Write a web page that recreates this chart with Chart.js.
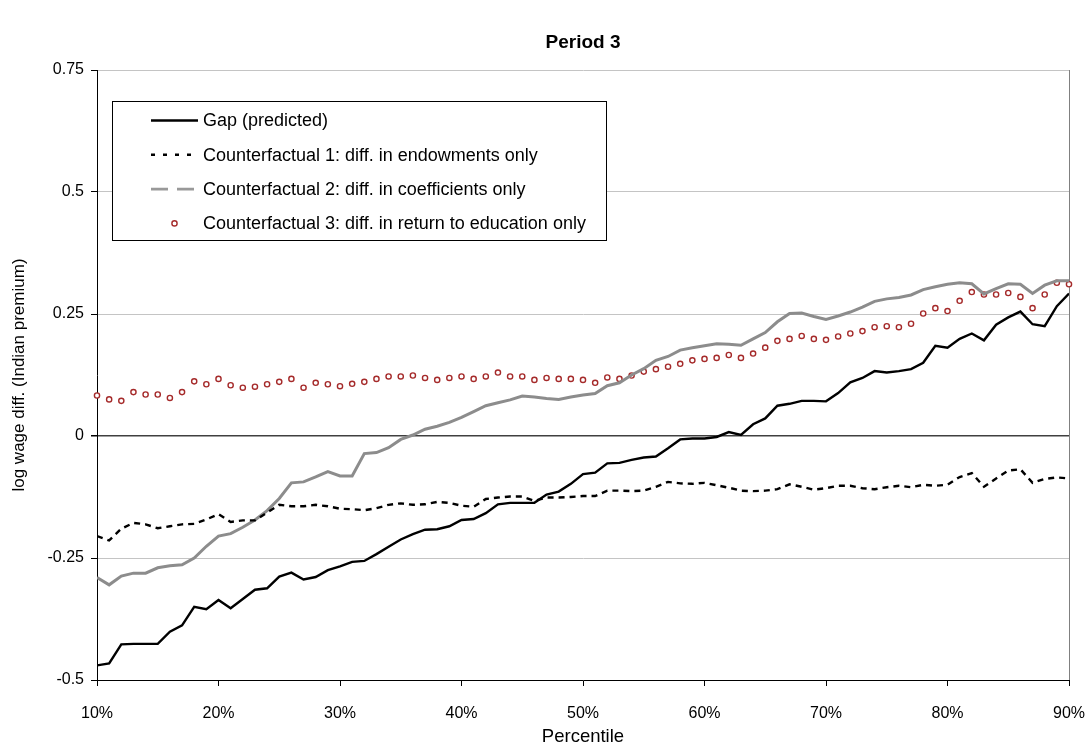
<!DOCTYPE html>
<html>
<head>
<meta charset="utf-8">
<title>Period 3</title>
<script src="https://cdn.jsdelivr.net/npm/chart.js@4.4.1/dist/chart.umd.min.js"></script>
<style>
  html, body { margin: 0; padding: 0; background: #ffffff; }
  #wrap { width: 1088px; height: 748px; }
</style>
</head>
<body>
<div id="wrap"><canvas id="chart" width="1088" height="748"></canvas></div>
<script>
// Percentile grid (1% steps)
const percentiles = [10, 11, 12, 13, 14, 15, 16, 17, 18, 19, 20, 21, 22, 23, 24, 25, 26, 27, 28, 29, 30,
  31, 32, 33, 34, 35, 36, 37, 38, 39, 40, 41, 42, 43, 44, 45, 46, 47, 48, 49, 50,
  51, 52, 53, 54, 55, 56, 57, 58, 59, 60, 61, 62, 63, 64, 65, 66, 67, 68, 69, 70,
  71, 72, 73, 74, 75, 76, 77, 78, 79, 80, 81, 82, 83, 84, 85, 86, 87, 88, 89, 90];

// Predicted log wage gap
const gapPredicted = [-0.470, -0.466, -0.427, -0.426, -0.426, -0.426, -0.401, -0.388, -0.350, -0.355, -0.336,
  -0.353, -0.334, -0.315, -0.312, -0.288, -0.280, -0.294, -0.289, -0.275, -0.267,
  -0.258, -0.256, -0.242, -0.227, -0.212, -0.201, -0.192, -0.191, -0.185, -0.172,
  -0.170, -0.158, -0.140, -0.137, -0.137, -0.137, -0.120, -0.114, -0.098, -0.078,
  -0.075, -0.056, -0.055, -0.049, -0.044, -0.042, -0.025, -0.007, -0.005, -0.005,
  -0.002, 0.008, 0.002, 0.024, 0.036, 0.062, 0.066, 0.072, 0.072, 0.071,
  0.088, 0.110, 0.119, 0.133, 0.130, 0.133, 0.137, 0.150, 0.185, 0.181,
  0.199, 0.210, 0.196, 0.228, 0.243, 0.255, 0.229, 0.225, 0.266, 0.292];

// Counterfactual 1: differences in endowments only
const cfEndowments = [-0.205, -0.214, -0.190, -0.178, -0.181, -0.189, -0.185, -0.181, -0.180, -0.171, -0.160,
  -0.176, -0.173, -0.173, -0.157, -0.141, -0.144, -0.144, -0.141, -0.144, -0.149,
  -0.150, -0.152, -0.148, -0.141, -0.138, -0.141, -0.140, -0.135, -0.137, -0.143,
  -0.145, -0.129, -0.126, -0.124, -0.124, -0.133, -0.126, -0.126, -0.125, -0.123,
  -0.123, -0.112, -0.112, -0.113, -0.112, -0.104, -0.094, -0.097, -0.098, -0.096,
  -0.101, -0.106, -0.112, -0.113, -0.112, -0.109, -0.099, -0.104, -0.110, -0.107,
  -0.102, -0.102, -0.107, -0.109, -0.105, -0.102, -0.105, -0.100, -0.102, -0.100,
  -0.084, -0.076, -0.104, -0.087, -0.071, -0.068, -0.096, -0.088, -0.085, -0.087];

// Counterfactual 2: differences in coefficients only
const cfCoefficients = [-0.290, -0.305, -0.287, -0.281, -0.281, -0.270, -0.266, -0.264, -0.250, -0.226, -0.205,
  -0.200, -0.187, -0.172, -0.153, -0.128, -0.096, -0.094, -0.084, -0.073, -0.082,
  -0.082, -0.036, -0.034, -0.024, -0.007, 0.002, 0.014, 0.020, 0.028, 0.038,
  0.050, 0.062, 0.068, 0.074, 0.082, 0.080, 0.077, 0.075, 0.080, 0.084,
  0.087, 0.103, 0.109, 0.125, 0.138, 0.155, 0.163, 0.176, 0.181, 0.185,
  0.189, 0.188, 0.186, 0.199, 0.212, 0.234, 0.251, 0.252, 0.245, 0.239,
  0.246, 0.254, 0.264, 0.276, 0.281, 0.284, 0.289, 0.300, 0.306, 0.311,
  0.314, 0.312, 0.291, 0.302, 0.312, 0.311, 0.292, 0.309, 0.318, 0.318];

// Counterfactual 3: differences in return to education only
const cfEducation = [0.083, 0.075, 0.072, 0.090, 0.085, 0.085, 0.078, 0.090, 0.112, 0.106, 0.117,
  0.104, 0.099, 0.101, 0.106, 0.111, 0.117, 0.099, 0.109, 0.106, 0.102,
  0.107, 0.111, 0.117, 0.122, 0.122, 0.124, 0.119, 0.115, 0.119, 0.122,
  0.117, 0.122, 0.130, 0.122, 0.122, 0.115, 0.119, 0.117, 0.117, 0.115,
  0.109, 0.120, 0.117, 0.124, 0.132, 0.137, 0.142, 0.148, 0.155, 0.158,
  0.160, 0.166, 0.160, 0.169, 0.181, 0.195, 0.199, 0.205, 0.199, 0.197,
  0.204, 0.210, 0.215, 0.223, 0.225, 0.223, 0.230, 0.251, 0.262, 0.256,
  0.277, 0.295, 0.290, 0.290, 0.293, 0.285, 0.262, 0.290, 0.314, 0.311];

const seriesLabels = [
  'Gap (predicted)',
  'Counterfactual 1: diff. in endowments only',
  'Counterfactual 2: diff. in coefficients only',
  'Counterfactual 3: diff. in return to education only'
];

const xTickValues = [10, 20, 30, 40, 50, 60, 70, 80, 90];
const yTickValues = [-0.5, -0.25, 0, 0.25, 0.5, 0.75];

const FONT = 'Arial, "Liberation Sans", sans-serif';
const toPoints = vals => vals.map((v, i) => ({ x: percentiles[i], y: v }));

// Gray frame on the right edge of the plot area
const plotFrame = {
  id: 'plotFrame',
  beforeDatasetsDraw(chart) {
    const { ctx, chartArea: a } = chart;
    ctx.save();
    ctx.strokeStyle = '#808080';
    ctx.lineWidth = 1;
    ctx.beginPath();
    ctx.moveTo(Math.round(a.right) + 0.5, a.top);
    ctx.lineTo(Math.round(a.right) + 0.5, a.bottom);
    ctx.stroke();
    ctx.restore();
  }
};

// Boxed legend inside the plot area, upper left
const boxedLegend = {
  id: 'boxedLegend',
  afterDraw(chart, args, opts) {
    const { ctx, chartArea: a } = chart;
    const bx = Math.round(a.left + opts.offsetX) + 0.5;
    const by = Math.round(a.top + opts.offsetY) + 0.5;
    ctx.save();
    ctx.fillStyle = '#ffffff';
    ctx.fillRect(bx, by, opts.width, opts.height);
    ctx.strokeStyle = '#000000';
    ctx.lineWidth = 1;
    ctx.strokeRect(bx, by, opts.width, opts.height);
    ctx.font = opts.font;
    ctx.textBaseline = 'middle';
    ctx.textAlign = 'left';
    chart.data.datasets.forEach((ds, i) => {
      const s = opts.samples[i];
      const cy = by + opts.firstRow + i * opts.rowGap;
      const x0 = bx + opts.sampleStart, x1 = bx + opts.sampleEnd;
      if (s.kind === 'line') {
        ctx.save();
        ctx.strokeStyle = s.color;
        ctx.lineWidth = s.width;
        ctx.setLineDash(s.dash || []);
        ctx.beginPath();
        ctx.moveTo(x0, cy);
        ctx.lineTo(x1, cy);
        ctx.stroke();
        ctx.restore();
      } else {
        ctx.save();
        ctx.beginPath();
        ctx.arc((x0 + x1) / 2, cy, s.radius, 0, Math.PI * 2);
        ctx.fillStyle = '#ffffff';
        ctx.fill();
        ctx.lineWidth = s.width;
        ctx.strokeStyle = s.color;
        ctx.stroke();
        ctx.restore();
      }
      ctx.fillStyle = '#000000';
      ctx.fillText(ds.label, bx + opts.textStart, cy + 1);
    });
    ctx.restore();
  }
};

new Chart(document.getElementById('chart'), {
  type: 'line',
  data: {
    datasets: [
      {
        label: seriesLabels[0],
        data: toPoints(gapPredicted),
        borderColor: '#000000',
        borderWidth: 2.4,
        pointRadius: 0,
        tension: 0
      },
      {
        label: seriesLabels[1],
        data: toPoints(cfEndowments),
        borderColor: '#000000',
        borderWidth: 2.4,
        borderDash: [6, 5],
        pointRadius: 0,
        tension: 0
      },
      {
        label: seriesLabels[2],
        data: toPoints(cfCoefficients),
        borderColor: '#8c8c8c',
        borderWidth: 3,
        pointRadius: 0,
        tension: 0
      },
      {
        label: seriesLabels[3],
        data: toPoints(cfEducation),
        showLine: false,
        pointStyle: 'circle',
        pointRadius: 2.6,
        pointBorderWidth: 1.4,
        pointBorderColor: '#a52a2a',
        pointBackgroundColor: '#ffffff',
        clip: false
      }
    ]
  },
  options: {
    responsive: false,
    animation: false,
    devicePixelRatio: 1,
    layout: { padding: { left: 0, right: 19, top: 0, bottom: 0 } },
    plugins: {
      legend: { display: false },
      tooltip: { enabled: false },
      title: {
        display: true,
        text: 'Period 3',
        fullSize: false,
        color: '#000000',
        font: { family: FONT, size: 19, weight: 'bold' },
        padding: { top: 31, bottom: 16.2 }
      },
      boxedLegend: {
        offsetX: 14.5,
        offsetY: 31,
        width: 494,
        height: 139,
        firstRow: 19,
        rowGap: 34.3,
        sampleStart: 38.5,
        sampleEnd: 85.5,
        textStart: 90.5,
        font: '18px ' + FONT,
        samples: [
          { kind: 'line', color: '#000000', width: 2.4 },
          { kind: 'line', color: '#000000', width: 2.6, dash: [4, 8] },
          { kind: 'line', color: '#999999', width: 2.6, dash: [17, 9] },
          { kind: 'point', color: '#a52a2a', width: 1.4, radius: 2.6 }
        ]
      }
    },
    scales: {
      x: {
        type: 'linear',
        min: 10,
        max: 90,
        afterBuildTicks: s => { s.ticks = xTickValues.map(v => ({ value: v })); },
        afterFit: s => { s.height = 68; s.paddingLeft = 0; s.paddingRight = 0; },
        ticks: {
          callback: v => v + '%',
          color: '#000000',
          font: { family: FONT, size: 16 },
          padding: 18,
          maxRotation: 0,
          autoSkip: false
        },
        grid: {
          drawOnChartArea: false,
          drawTicks: true,
          tickLength: 6,
          tickColor: '#000000'
        },
        border: { display: true, color: '#000000', width: 1 },
        title: {
          display: true,
          text: 'Percentile',
          color: '#000000',
          font: { family: FONT, size: 18.5 },
          padding: { top: 0, bottom: 0 }
        }
      },
      y: {
        min: -0.5,
        max: 0.75,
        afterBuildTicks: s => { s.ticks = yTickValues.map(v => ({ value: v })); },
        afterFit: s => { s.width = 97; },
        ticks: {
          callback: v => String(v),
          color: '#000000',
          font: { family: FONT, size: 16 },
          padding: 7
        },
        grid: {
          color: c => (c.tick && c.tick.value === 0 ? '#404040' : '#c4c4c4'),
          lineWidth: c => (c.tick && c.tick.value === 0 ? 1.5 : 1),
          drawTicks: true,
          tickLength: 6,
          tickColor: '#000000'
        },
        border: { display: true, color: '#000000', width: 1 },
        title: {
          display: true,
          text: 'log wage diff. (Indian premium)',
          color: '#000000',
          font: { family: FONT, size: 17 },
          padding: { top: 9, bottom: 0 }
        }
      }
    }
  },
  plugins: [plotFrame, boxedLegend]
});
</script>
</body>
</html>
